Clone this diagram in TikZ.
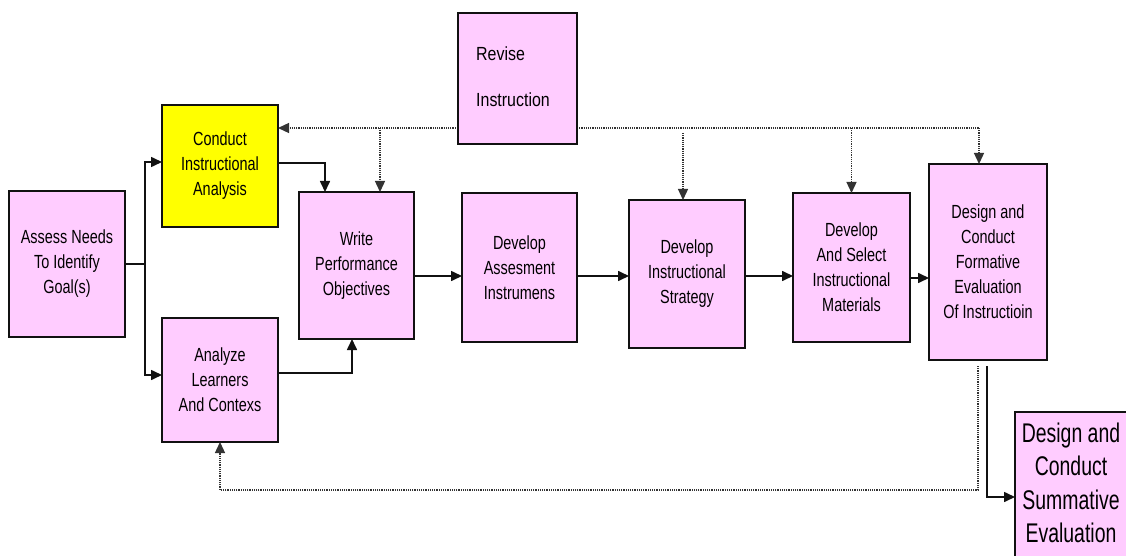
\documentclass[tikz,border=0pt]{standalone}
\usepackage{fontspec}
\setmainfont{Liberation Sans}
\newfontfamily\narrowA[FakeStretch=0.76]{Liberation Sans}
\newfontfamily\narrowR[FakeStretch=0.84]{Liberation Sans}
\newfontfamily\narrowS[FakeStretch=0.72]{Liberation Sans}
\usetikzlibrary{arrows.meta,backgrounds}
\definecolor{pinkbox}{HTML}{FFCCFF}
\definecolor{yellowbox}{HTML}{FFFF00}
\definecolor{edge}{HTML}{111111}
\definecolor{dotc}{HTML}{333333}
\tikzset{
  box/.style={draw=edge, line width=2pt, fill=pinkbox, inner sep=0pt, outer sep=0pt,
    align=center, font=\narrowA\fontsize{19}{25}\selectfont},
  ybox/.style={box, fill=yellowbox},
  conn/.style={draw=edge, line width=1.6pt},
  arr/.style={conn, -{Triangle[length=11pt,width=10pt]}},
  dotline/.style={draw=dotc, line width=1.3pt, dash pattern=on 1.2pt off 1pt},
  dotarr/.style={dotline, -{Triangle[length=11pt,width=10pt]}},
}
\begin{document}
\begin{tikzpicture}[x=1pt,y=-1pt]
\useasboundingbox (0,0) rectangle (1126,556);
\clip (0,0) rectangle (1126,556);
% nodes
\node[box, minimum width=116pt, minimum height=146pt] (assess) at (67,264) {Assess Needs\\To Identify\\Goal(s)};
\node[ybox, minimum width=116pt, minimum height=122pt] (conduct) at (220,166) {Conduct\\Instructional\\Analysis};
\node[box, minimum width=116pt, minimum height=124pt] (analyze) at (220,380) {Analyze\\Learners\\And Contexs};
\node[box, minimum width=115pt, minimum height=147pt] (write) at (356.5,265.5) {Write\\Performance\\Objectives};
\node[box, minimum width=115pt, minimum height=149pt] (assessment) at (519.5,267.5) {Develop\\Assesment\\Instrumens};
\node[box, minimum width=116pt, minimum height=148pt] (strategy) at (687,274) {Develop\\Instructional\\Strategy};
\node[box, minimum width=117pt, minimum height=149pt] (materials) at (851.5,267.5) {Develop\\And Select\\Instructional\\Materials};
\node[box, minimum width=118pt, minimum height=196pt] (formative) at (988,262) {Design and\\Conduct\\Formative\\Evaluation\\Of Instructioin};
\node[box, minimum width=119pt, minimum height=131pt] (revise) at (517.5,78.5) {};
\node[anchor=west, font=\narrowR\fontsize{19}{46}\selectfont, align=left, inner sep=0pt] (revtext) at (476,77) {Revise\\Instruction};
\node[box, minimum width=130pt, minimum height=190pt] (summative) at (1080,507) {};
\node[font=\narrowS\fontsize{27}{33.5}\selectfont, align=center, inner sep=0pt] (sumtext) at (1071,483) {Design and\\Conduct\\Summative\\Evaluation};
% solid connectors
\coordinate (j) at (145,264);
\draw[conn] (assess.east) -- (j);
\draw[arr] (j) |- ([yshift=4pt]conduct.west);
\draw[arr] (j) |- ([yshift=5pt]analyze.west);
\draw[arr] ([yshift=3pt]conduct.east) -| ([xshift=-31.5pt]write.north);
\draw[arr] ([yshift=7pt]analyze.east) -| ([xshift=-4.5pt]write.south);
\draw[arr] ([yshift=-10.5pt]write.east) -- ([yshift=-10.5pt]write.east -| assessment.west);
\draw[arr] ([yshift=-8.5pt]assessment.east) -- ([yshift=-8.5pt]assessment.east -| strategy.west);
\draw[arr] ([yshift=-2pt]strategy.east) -- ([yshift=-2pt]strategy.east -| materials.west);
\draw[arr] ([yshift=-10.5pt]materials.east) -- ([yshift=-10.5pt]materials.east -| formative.west);
\coordinate (fs) at (987,366);
\draw[arr] (fs) |- ([yshift=10pt]summative.west);
% dotted connectors
\begin{scope}[on background layer]
\coordinate (rl) at ([yshift=-49.5pt]revise.west);
\coordinate (rr) at ([yshift=-49.5pt]revise.east);
\coordinate (dr) at (979,128);
\draw[dotarr] (rl) -- (rl -| conduct.east);
\draw[dotline] (rr) -- (dr);
\end{scope}
\draw[dotarr] (dr) -- (dr |- formative.north);
\coordinate (d1) at (380,128);
\draw[dotarr] (d1) -- (d1 |- write.north);
\coordinate (d2) at (683,133);
\draw[dotarr] (d2) -- (d2 |- strategy.north);
\draw[dotarr] (materials.north |- dr) -- (materials.north);
\coordinate (fd) at (978,366);
\coordinate (fb) at (978,490);
\draw[dotarr] (fd) -- (fb) -| (analyze.south);
\end{tikzpicture}
\end{document}
